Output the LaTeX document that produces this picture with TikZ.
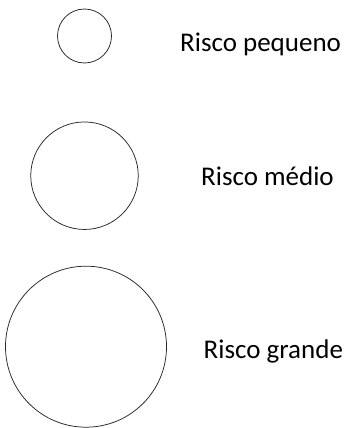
\documentclass[tikz,border=0pt]{standalone}
\usepackage{fontspec}
\setmainfont{Carlito}
\begin{document}
\begin{tikzpicture}[x=1pt,y=-1pt,
  risk/.style={draw=black!85,line width=0.75pt,circle,inner sep=0pt},
  lbl/.style={anchor=base west,inner sep=0pt,font=\fontsize{27}{32}\selectfont}]
\useasboundingbox (0,0) rectangle (354,428);
\node[risk,minimum size=54pt] (c1) at (84.5,36) {};
\node[risk,minimum size=107.5pt] (c2) at (84.5,175.7) {};
\node[risk,minimum size=161pt] (c3) at (86,346.7) {};
\node[lbl] (t1) at (180,51.7) {Risco pequeno};
\node[lbl] (t2) at (201,185) {Risco médio};
\node[lbl] (t3) at (203.5,358) {Risco grande};
\end{tikzpicture}
\end{document}
